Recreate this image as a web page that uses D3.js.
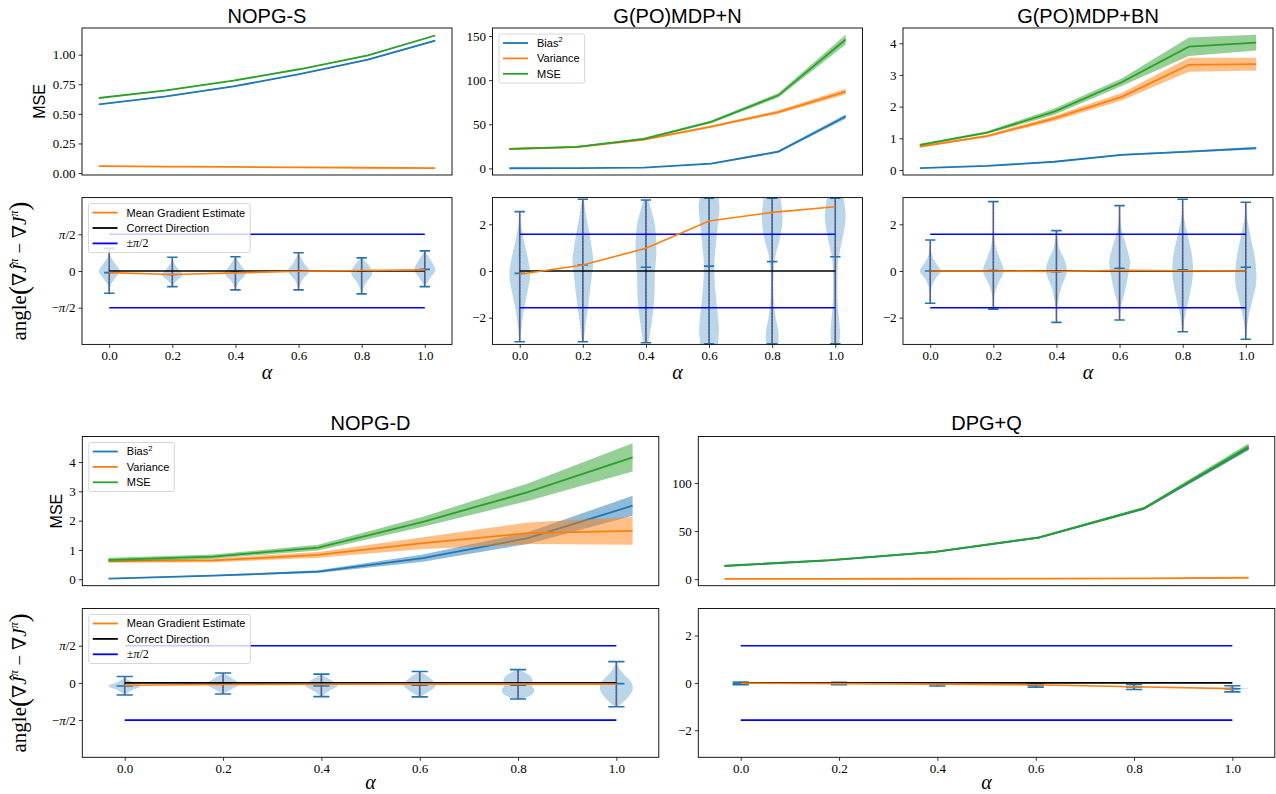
<!DOCTYPE html>
<html>
<head>
<meta charset="utf-8">
<script src="https://cdn.jsdelivr.net/npm/d3@7"></script>
<style>
  body { margin: 0; background: #fff; }
</style>
</head>
<body>
<div id="chart"></div>
<script>
// Data.
const alphas = [0, 0.2, 0.4, 0.6, 0.8, 1.0];
const alphaTickLabels = ['0.0', '0.2', '0.4', '0.6', '0.8', '1.0'];
const violinWidth = 0.066;

const halfPiTicks = [-Math.PI / 2, 0, Math.PI / 2];
const halfPiLabels = ['−π/2', '0', 'π/2'];
const intTicks = [-2, 0, 2];
const intLabels = ['−2', '0', '2'];

// NOPG-S
const nopgSBias = [0.58, 0.647, 0.732, 0.837, 0.958, 1.118];
const nopgSBiasStd = [0.004, 0.004, 0.005, 0.005, 0.006, 0.007];
const nopgSVar = [0.058, 0.055, 0.052, 0.048, 0.045, 0.042];
const nopgSVarStd = [0.002, 0.002, 0.002, 0.002, 0.002, 0.002];
const nopgSMse = [0.634, 0.698, 0.78, 0.879, 0.994, 1.162];
const nopgSMseStd = [0.004, 0.004, 0.005, 0.005, 0.006, 0.007];
const nopgSMseTicks = [0, 0.25, 0.5, 0.75, 1.0];
const nopgSMseLabels = ['0.00', '0.25', '0.50', '0.75', '1.00'];
const nopgSMin = [-0.955, -0.67, -0.81, -0.81, -0.98, -0.67];
const nopgSMax = [0.97, 0.59, 0.61, 0.78, 0.56, 0.86];
const nopgSCenter = [-0.07, -0.15, -0.05, 0.0, 0.0, 0.07];
const nopgSGrad = [-0.07, -0.15, -0.08, -0.01, 0.02, 0.05];
const nopgSShapes = [
  [[-0.955, 0], [-0.6, 0.15], [-0.3, 0.6], [0, 1], [0.3, 0.6], [0.6, 0.15], [0.97, 0]],
  [[-0.67, 0], [-0.45, 0.35], [-0.15, 1], [0.1, 0.55], [0.35, 0.15], [0.59, 0]],
  [[-0.81, 0], [-0.5, 0.3], [-0.1, 1], [0.2, 0.6], [0.61, 0]],
  [[-0.81, 0], [-0.4, 0.35], [0, 1], [0.35, 0.5], [0.78, 0]],
  [[-0.98, 0], [-0.6, 0.3], [-0.1, 1], [0.25, 0.7], [0.56, 0]],
  [[-0.67, 0], [-0.35, 0.45], [0.05, 1], [0.45, 0.6], [0.86, 0]]
];

// G(PO)MDP+N
const gpomdpNBias = [0.2, 0.3, 0.9, 5.3, 19, 58.8];
const gpomdpNBiasStd = [0.1, 0.1, 0.2, 0.6, 1.2, 2.5];
const gpomdpNVar = [22, 24, 32.6, 47.4, 63.8, 87];
const gpomdpNVarStd = [0.5, 0.6, 0.9, 1.3, 2, 3.2];
const gpomdpNMse = [22.2, 24.3, 33.5, 52.7, 82.8, 146];
const gpomdpNMseStd = [0.6, 0.7, 1, 1.5, 2.5, 5.5];
const gpomdpNMseTicks = [0, 50, 100, 150];
const gpomdpNMin = [-3.03, -3.03, -3.07, -3.12, -3.12, -3.12];
const gpomdpNMax = [2.54, 3.07, 3.04, 3.12, 3.12, 3.12];
const gpomdpNCenter = [-0.1, 0.26, 0.16, 0.21, 0.4, 0.61];
const gpomdpNGrad = [-0.14, 0.26, 0.97, 2.14, 2.51, 2.75];
const gpomdpNShapes = [
  [[-3.03, 0.03], [-2.5, 0.15], [-1.8, 0.35], [-1, 0.7], [-0.2, 1], [0.5, 0.8], [1.2, 0.45], [2, 0.12], [2.54, 0.02]],
  [[-3.03, 0.08], [-2.2, 0.3], [-1.2, 0.6], [-0.2, 0.85], [0.4, 1], [1.3, 0.75], [2.3, 0.35], [3.07, 0.08]],
  [[-3.07, 0.25], [-2.2, 0.55], [-1.2, 0.8], [-0.2, 0.85], [0.9, 1], [2, 0.85], [2.7, 0.45], [3.04, 0.25]],
  [[-3.12, 0.85], [-2.5, 0.95], [-1.5, 0.75], [-0.5, 0.55], [0.3, 0.5], [1.1, 0.65], [2, 0.85], [2.7, 1], [3.12, 0.9]],
  [[-3.12, 0.6], [-2.6, 0.6], [-2, 0.35], [-1.2, 0.15], [-0.2, 0.13], [0.6, 0.3], [1.4, 0.75], [2.3, 1], [3.12, 0.8]],
  [[-3.12, 0.4], [-2.5, 0.45], [-1.5, 0.25], [-0.5, 0.2], [0.5, 0.3], [1.5, 0.75], [2.3, 1], [3.12, 0.8]]
];

// G(PO)MDP+BN
const gpomdpBNBias = [0.06, 0.13, 0.26, 0.48, 0.58, 0.69];
const gpomdpBNBiasStd = [0.007, 0.01, 0.015, 0.025, 0.03, 0.04];
const gpomdpBNVar = [0.74, 1.07, 1.63, 2.31, 3.32, 3.34];
const gpomdpBNVarStd = [0.03, 0.04, 0.08, 0.12, 0.22, 0.2];
const gpomdpBNMse = [0.79, 1.18, 1.84, 2.77, 3.89, 4.02];
const gpomdpBNMseStd = [0.03, 0.04, 0.1, 0.12, 0.29, 0.25];
const gpomdpBNMseTicks = [0, 1, 2, 3, 4];
const gpomdpBNMin = [-1.38, -1.63, -2.2, -2.1, -2.6, -2.92];
const gpomdpBNMax = [1.33, 2.97, 1.73, 2.8, 3.07, 2.94];
const gpomdpBNCenter = [0, 0.02, -0.03, 0.12, 0.05, 0.16];
const gpomdpBNGrad = [0, 0, -0.02, 0.03, 0.01, 0.0];
const gpomdpBNShapes = [
  [[-1.38, 0], [-0.8, 0.08], [-0.4, 0.4], [0, 1], [0.3, 0.6], [0.7, 0.15], [1.33, 0]],
  [[-1.63, 0], [-1, 0.12], [-0.5, 0.5], [0, 1], [0.5, 0.65], [1, 0.25], [1.6, 0.05], [2.97, 0]],
  [[-2.2, 0], [-1.5, 0.1], [-0.8, 0.4], [0, 1], [0.5, 0.75], [1, 0.25], [1.73, 0]],
  [[-2.1, 0], [-1.5, 0.15], [-0.8, 0.55], [0, 0.9], [0.4, 1], [1, 0.7], [1.8, 0.2], [2.8, 0]],
  [[-2.6, 0.03], [-2, 0.2], [-1, 0.7], [0, 1], [0.8, 0.85], [1.5, 0.5], [2.3, 0.12], [3.07, 0]],
  [[-2.92, 0.03], [-2.3, 0.15], [-1.5, 0.5], [-0.5, 1], [0.5, 0.9], [1.5, 0.45], [2.3, 0.12], [2.94, 0]]
];

// NOPG-D
const nopgDBias = [0.02, 0.12, 0.26, 0.72, 1.4, 2.51];
const nopgDBiasStd = [0.01, 0.02, 0.05, 0.12, 0.2, 0.34];
const nopgDVar = [0.62, 0.64, 0.83, 1.23, 1.57, 1.65];
const nopgDVarStd = [0.06, 0.06, 0.1, 0.2, 0.37, 0.47];
const nopgDMse = [0.66, 0.77, 1.08, 1.96, 2.97, 4.16];
const nopgDMseStd = [0.07, 0.07, 0.1, 0.17, 0.3, 0.48];
const nopgDMseTicks = [0, 1, 2, 3, 4];
const nopgDMin = [-0.51, -0.47, -0.58, -0.59, -0.68, -1.01];
const nopgDMax = [0.27, 0.42, 0.37, 0.48, 0.56, 0.9];
const nopgDCenter = [-0.13, -0.05, -0.13, -0.1, -0.1, -0.03];
const nopgDGrad = [-0.1, -0.07, -0.06, -0.05, -0.05, -0.05];
const nopgDShapes = [
  [[-0.51, 0], [-0.3, 0.45], [-0.13, 1], [0.03, 0.5], [0.15, 0.15], [0.27, 0]],
  [[-0.47, 0], [-0.3, 0.45], [-0.05, 1], [0.2, 0.55], [0.42, 0]],
  [[-0.58, 0], [-0.35, 0.45], [-0.1, 1], [0.1, 0.65], [0.37, 0]],
  [[-0.59, 0], [-0.35, 0.6], [-0.1, 1], [0.2, 0.65], [0.48, 0]],
  [[-0.68, 0.15], [-0.5, 0.85], [-0.3, 1], [-0.1, 0.85], [0.1, 0.9], [0.3, 0.75], [0.56, 0.08]],
  [[-1.01, 0.08], [-0.7, 0.6], [-0.3, 1], [0, 0.95], [0.3, 0.55], [0.6, 0.2], [0.9, 0]]
];

// DPG+Q
const dpgQBias = [13.6, 19.5, 28.1, 43.1, 73.2, 136.5];
const dpgQBiasStd = [0.3, 0.4, 0.5, 0.8, 1.2, 2.5];
const dpgQVar = [0.25, 0.3, 0.35, 0.45, 0.7, 1.4];
const dpgQVarStd = [0.05, 0.05, 0.06, 0.08, 0.1, 0.2];
const dpgQMse = [13.9, 19.8, 28.4, 43.5, 73.8, 138];
const dpgQMseStd = [0.3, 0.4, 0.5, 0.8, 1.3, 3.3];
const dpgQMseTicks = [0, 50, 100];
const dpgQMin = [-0.08, -0.08, -0.13, -0.18, -0.28, -0.38];
const dpgQMax = [0.04, 0.03, -0.01, -0.01, -0.07, -0.12];
const dpgQCenter = [-0.02, -0.03, -0.07, -0.1, -0.17, -0.25];
const dpgQGrad = [-0.01, -0.03, -0.05, -0.08, -0.16, -0.24];
const dpgQShapes = [
  [[-0.08, 0], [-0.04, 0.25], [-0.02, 1], [0.01, 0.25], [0.04, 0]],
  [[-0.08, 0], [-0.05, 0.3], [-0.03, 1], [0, 0.3], [0.03, 0]],
  [[-0.13, 0], [-0.09, 0.3], [-0.07, 1], [-0.04, 0.3], [-0.01, 0]],
  [[-0.18, 0], [-0.13, 0.3], [-0.1, 1], [-0.06, 0.3], [-0.01, 0]],
  [[-0.28, 0], [-0.21, 0.3], [-0.17, 1], [-0.12, 0.3], [-0.07, 0]],
  [[-0.38, 0], [-0.3, 0.3], [-0.25, 1], [-0.19, 0.3], [-0.12, 0]]
];

// Styles.
const SANS = '"Liberation Sans", Arial, sans-serif';
const SERIF = '"Liberation Serif", "DejaVu Serif", serif';
const C_BLUE = '#1f77b4';
const C_ORANGE = '#ff7f0e';
const C_GREEN = '#2ca02c';

const svg = d3.select('#chart').append('svg')
  .attr('width', 1276)
  .attr('height', 794);

let clipCount = 0;

function styleAxis(a, labels) {
  a.select('.domain').remove();
  a.selectAll('line').attr('stroke', '#000').attr('stroke-width', 0.8);
  a.selectAll('text')
    .attr('font-family', SERIF)
    .attr('font-size', 13)
    .attr('fill', '#000')
    .each(function (d, i) {
      const t = d3.select(this);
      t.text(null);
      labels[i].split(/(π)/).forEach(part => {
        if (!part) return;
        t.append('tspan').attr('font-style', part === 'π' ? 'italic' : null).text(part);
      });
    });
}

function drawLegend(left, top, items) {
  const g = svg.append('g');
  const bx = left + 6.5, by = top + 6;
  const box = g.append('rect')
    .attr('x', bx).attr('y', by)
    .attr('height', 49).attr('rx', 2)
    .attr('fill', '#fff').attr('fill-opacity', 0.8)
    .attr('stroke', '#cccccc').attr('stroke-width', 0.8);
  let maxW = 0;
  items.forEach((it, i) => {
    const yy = by + 9 + i * 15.4;
    g.append('line')
      .attr('x1', bx + 4).attr('x2', bx + 29)
      .attr('y1', yy).attr('y2', yy)
      .attr('stroke', it.color).attr('stroke-width', 1.8);
    const t = g.append('text')
      .attr('x', bx + 38).attr('y', yy).attr('dy', '0.36em')
      .attr('font-family', SANS).attr('font-size', 11).attr('fill', '#000');
    it.parts.forEach(p => {
      const s = t.append('tspan').text(p.text);
      if (p.sup) s.attr('font-size', 7.5).attr('dy', -4.5);
      if (p.serif) s.attr('font-family', SERIF).attr('font-size', 12);
      if (p.italic) s.attr('font-style', 'italic');
    });
    maxW = Math.max(maxW, t.node().getComputedTextLength());
  });
  box.attr('width', maxW + 38 + 5);
}

function drawMse(p) {
  const x = d3.scaleLinear().domain([-0.05, 1.05]).range([p.left, p.left + p.width]);
  const lo = d3.min(p.series, s => d3.min(s.values, (v, i) => v - s.spread[i]));
  const hi = d3.max(p.series, s => d3.max(s.values, (v, i) => v + s.spread[i]));
  const pad = (hi - lo) * 0.05;
  const y = d3.scaleLinear().domain([lo - pad, hi + pad]).range([p.top + p.height, p.top]);

  const g = svg.append('g');

  p.series.forEach(s => {
    const pts = alphas.map((a, i) => ({ a, v: s.values[i], e: s.spread[i] }));
    g.append('path')
      .datum(pts)
      .attr('d', d3.area().x(d => x(d.a)).y0(d => y(d.v - d.e)).y1(d => y(d.v + d.e)))
      .attr('fill', s.color).attr('fill-opacity', 0.5);
    g.append('path')
      .datum(pts)
      .attr('d', d3.line().x(d => x(d.a)).y(d => y(d.v)))
      .attr('fill', 'none').attr('stroke', s.color).attr('stroke-width', 1.8);
  });

  const ax = g.append('g')
    .attr('transform', 'translate(' + p.left + ',0)')
    .call(d3.axisLeft(y).tickValues(p.ticks).tickSize(3.5).tickPadding(3));
  styleAxis(ax, p.tickLabels);

  g.append('rect')
    .attr('x', p.left).attr('y', p.top).attr('width', p.width).attr('height', p.height)
    .attr('fill', 'none').attr('stroke', '#000').attr('stroke-width', 0.9);

  svg.append('text')
    .attr('x', p.left + p.width / 2).attr('y', p.titleY)
    .attr('text-anchor', 'middle')
    .attr('font-family', SANS).attr('font-size', 20).attr('fill', '#000')
    .text(p.title);

  if (p.ylabelX) {
    svg.append('text')
      .attr('transform', 'translate(' + p.ylabelX + ',' + (p.top + p.height / 2) + ') rotate(-90)')
      .attr('text-anchor', 'middle')
      .attr('font-family', SANS).attr('font-size', 16).attr('fill', '#000')
      .text('MSE');
  }

  if (p.legend) {
    drawLegend(p.left, p.top, [
      { color: C_BLUE, parts: [{ text: 'Bias' }, { text: '2', sup: true }] },
      { color: C_ORANGE, parts: [{ text: 'Variance' }] },
      { color: C_GREEN, parts: [{ text: 'MSE' }] }
    ]);
  }
}

function drawAngle(p) {
  const ext = [d3.min(alphas) - violinWidth / 2, d3.max(alphas) + violinWidth / 2];
  const m = (ext[1] - ext[0]) * 0.05;
  const x = d3.scaleLinear().domain([ext[0] - m, ext[1] + m]).range([p.left, p.left + p.width]);
  const y = d3.scaleLinear().domain([-Math.PI, Math.PI]).range([p.top + p.height, p.top]);

  const clipId = 'clip' + (clipCount++);
  svg.append('clipPath').attr('id', clipId)
    .append('rect')
    .attr('x', p.left).attr('y', p.top).attr('width', p.width).attr('height', p.height);

  const g = svg.append('g').attr('clip-path', 'url(#' + clipId + ')');

  // Violin bodies.
  p.shapes.forEach((shape, i) => {
    const pos = alphas[i];
    g.append('path')
      .datum(shape)
      .attr('d', d3.area()
        .curve(d3.curveCatmullRom)
        .y(d => y(d[0]))
        .x0(d => x(pos - violinWidth / 2 * d[1]))
        .x1(d => x(pos + violinWidth / 2 * d[1])))
      .attr('fill', C_BLUE).attr('fill-opacity', 0.3);
  });

  // Extremes bars and caps.
  alphas.forEach((a, i) => {
    g.append('line')
      .attr('x1', x(a)).attr('x2', x(a))
      .attr('y1', y(p.min[i])).attr('y2', y(p.max[i]))
      .attr('stroke', C_BLUE).attr('stroke-width', 1.6);
    [p.min[i], p.max[i], p.center[i]].forEach(v => {
      g.append('line')
        .attr('x1', x(a - violinWidth / 4)).attr('x2', x(a + violinWidth / 4))
        .attr('y1', y(v)).attr('y2', y(v))
        .attr('stroke', C_BLUE).attr('stroke-width', 1.6);
    });
    g.append('line')
      .attr('x1', x(a)).attr('x2', x(a))
      .attr('y1', y(p.min[i])).attr('y2', y(p.max[i]))
      .attr('stroke', '#e3242b').attr('stroke-opacity', 0.85)
      .attr('stroke-width', 1.2).attr('stroke-dasharray', '1.5 1.8');
  });

  const xr = [x(d3.min(alphas)), x(d3.max(alphas))];
  g.append('line')
    .attr('x1', xr[0]).attr('x2', xr[1]).attr('y1', y(0)).attr('y2', y(0))
    .attr('stroke', '#000').attr('stroke-width', 1.6);
  [-Math.PI / 2, Math.PI / 2].forEach(v => {
    g.append('line')
      .attr('x1', xr[0]).attr('x2', xr[1]).attr('y1', y(v)).attr('y2', y(v))
      .attr('stroke', '#0000ff').attr('stroke-width', 1.6);
  });
  g.append('path')
    .datum(alphas.map((a, i) => [a, p.grad[i]]))
    .attr('d', d3.line().x(d => x(d[0])).y(d => y(d[1])))
    .attr('fill', 'none').attr('stroke', C_ORANGE).attr('stroke-width', 1.6);

  const ay = svg.append('g')
    .attr('transform', 'translate(' + p.left + ',0)')
    .call(d3.axisLeft(y).tickValues(p.ticks).tickSize(3.5).tickPadding(3));
  styleAxis(ay, p.tickLabels);

  const axx = svg.append('g')
    .attr('transform', 'translate(0,' + (p.top + p.height) + ')')
    .call(d3.axisBottom(x).tickValues(alphas).tickSize(3.5).tickPadding(3));
  styleAxis(axx, alphaTickLabels);

  svg.append('rect')
    .attr('x', p.left).attr('y', p.top).attr('width', p.width).attr('height', p.height)
    .attr('fill', 'none').attr('stroke', '#000').attr('stroke-width', 0.9);

  svg.append('text')
    .attr('x', p.left + p.width / 2).attr('y', p.xlabelY)
    .attr('text-anchor', 'middle')
    .attr('font-family', SERIF).attr('font-style', 'italic').attr('font-size', 20).attr('fill', '#000')
    .text('α');

  if (p.ylabelX) {
    const t = svg.append('text')
      .attr('transform', 'translate(' + p.ylabelX + ',' + (p.top + p.height / 2) + ') rotate(-90)')
      .attr('text-anchor', 'middle')
      .attr('font-family', SERIF).attr('fill', '#000');
    t.append('tspan').attr('font-size', 21).text('angle');
    t.append('tspan').attr('font-size', 27).attr('dy', 2).text('(');
    t.append('tspan').attr('font-size', 19).attr('dy', -2).text('∇');
    t.append('tspan').attr('font-size', 19).attr('font-style', 'italic').text('Ĵ');
    t.append('tspan').attr('font-size', 12).attr('font-style', 'italic').attr('dy', -8).text('π');
    t.append('tspan').attr('font-size', 19).attr('dy', 8).text(' − ∇');
    t.append('tspan').attr('font-size', 19).attr('font-style', 'italic').text('J');
    t.append('tspan').attr('font-size', 12).attr('font-style', 'italic').attr('dy', -8).text('π');
    t.append('tspan').attr('font-size', 27).attr('dy', 10).text(')');
  }

  if (p.legend) {
    drawLegend(p.left, p.top, [
      { color: C_ORANGE, parts: [{ text: 'Mean Gradient Estimate' }] },
      { color: '#000', parts: [{ text: 'Correct Direction' }] },
      { color: '#0000ff', parts: [{ text: '±', serif: true }, { text: 'π', serif: true, italic: true }, { text: '/2', serif: true }] }
    ]);
  }
}

// Layout.
const topCols = [82, 492.5, 903];
const topW = 370;
const botCols = [82.3, 698.3];
const botW = 576.5;

function mseSeries(b, bs, v, vs, m, ms) {
  return [
    { values: b, spread: bs, color: C_BLUE },
    { values: v, spread: vs, color: C_ORANGE },
    { values: m, spread: ms, color: C_GREEN }
  ];
}

drawMse({ title: 'NOPG-S', left: topCols[0], width: topW, top: 28, height: 147, titleY: 22.5, ylabelX: 45,
  series: mseSeries(nopgSBias, nopgSBiasStd, nopgSVar, nopgSVarStd, nopgSMse, nopgSMseStd),
  ticks: nopgSMseTicks, tickLabels: nopgSMseLabels });
drawMse({ title: 'G(PO)MDP+N', left: topCols[1], width: topW, top: 28, height: 147, titleY: 22.5, legend: true,
  series: mseSeries(gpomdpNBias, gpomdpNBiasStd, gpomdpNVar, gpomdpNVarStd, gpomdpNMse, gpomdpNMseStd),
  ticks: gpomdpNMseTicks, tickLabels: gpomdpNMseTicks.map(String) });
drawMse({ title: 'G(PO)MDP+BN', left: topCols[2], width: topW, top: 28, height: 147, titleY: 22.5,
  series: mseSeries(gpomdpBNBias, gpomdpBNBiasStd, gpomdpBNVar, gpomdpBNVarStd, gpomdpBNMse, gpomdpBNMseStd),
  ticks: gpomdpBNMseTicks, tickLabels: gpomdpBNMseTicks.map(String) });
drawMse({ title: 'NOPG-D', left: botCols[0], width: botW, top: 436.5, height: 149.2, titleY: 430, ylabelX: 61.5, legend: true,
  series: mseSeries(nopgDBias, nopgDBiasStd, nopgDVar, nopgDVarStd, nopgDMse, nopgDMseStd),
  ticks: nopgDMseTicks, tickLabels: nopgDMseTicks.map(String) });
drawMse({ title: 'DPG+Q', left: botCols[1], width: botW, top: 436.5, height: 149.2, titleY: 430,
  series: mseSeries(dpgQBias, dpgQBiasStd, dpgQVar, dpgQVarStd, dpgQMse, dpgQMseStd),
  ticks: dpgQMseTicks, tickLabels: dpgQMseTicks.map(String) });

drawAngle({ left: topCols[0], width: topW, top: 197.6, height: 146.8, xlabelY: 379, ylabelX: 26, legend: true,
  min: nopgSMin, max: nopgSMax, center: nopgSCenter, grad: nopgSGrad, shapes: nopgSShapes,
  ticks: halfPiTicks, tickLabels: halfPiLabels });
drawAngle({ left: topCols[1], width: topW, top: 197.6, height: 146.8, xlabelY: 379,
  min: gpomdpNMin, max: gpomdpNMax, center: gpomdpNCenter, grad: gpomdpNGrad, shapes: gpomdpNShapes,
  ticks: intTicks, tickLabels: intLabels });
drawAngle({ left: topCols[2], width: topW, top: 197.6, height: 146.8, xlabelY: 379,
  min: gpomdpBNMin, max: gpomdpBNMax, center: gpomdpBNCenter, grad: gpomdpBNGrad, shapes: gpomdpBNShapes,
  ticks: intTicks, tickLabels: intLabels });
drawAngle({ left: botCols[0], width: botW, top: 608.5, height: 148.8, xlabelY: 789, ylabelX: 26, legend: true,
  min: nopgDMin, max: nopgDMax, center: nopgDCenter, grad: nopgDGrad, shapes: nopgDShapes,
  ticks: halfPiTicks, tickLabels: halfPiLabels });
drawAngle({ left: botCols[1], width: botW, top: 608.5, height: 148.8, xlabelY: 789,
  min: dpgQMin, max: dpgQMax, center: dpgQCenter, grad: dpgQGrad, shapes: dpgQShapes,
  ticks: intTicks, tickLabels: intLabels });
</script>
</body>
</html>
